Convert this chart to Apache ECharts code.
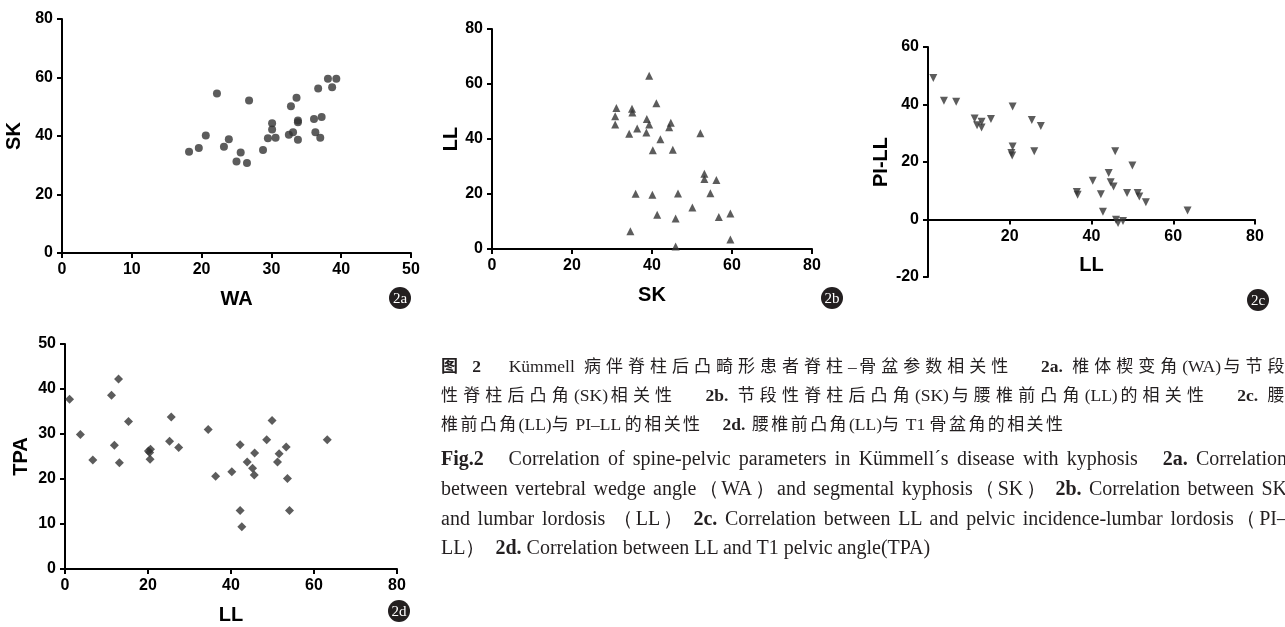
<!DOCTYPE html>
<html><head><meta charset="utf-8">
<script src="https://cdn.jsdelivr.net/npm/echarts@6/dist/echarts.min.js"></script>
<style>
html,body{margin:0;padding:0;background:#fff;overflow:hidden;}
#chart{position:absolute;left:0;top:0;width:1285px;height:627px;}
#cap{position:absolute;left:0;top:0;width:1285px;height:627px;pointer-events:none;color:#231f20;}
.ln{position:absolute;left:441px;width:846px;white-space:nowrap;text-align:justify;text-align-last:justify;height:24px;line-height:24px;}
.zh{font-family:"Liberation Serif","Noto Sans CJK SC";font-size:17px;letter-spacing:2.4px;}
.zh .l{letter-spacing:0;font-size:17.5px;}
.en{font-family:"Liberation Serif";font-size:20px;}
.left{text-align:left;text-align-last:left;}
b{font-weight:bold;}
</style>
</head><body>
<div id="chart"></div>
<div id="cap">
<div class="ln zh" style="top:354px"><b>图 <span class="l">2</span></b>&nbsp;&nbsp; <span class="l">Kümmell</span> 病伴脊柱后凸畸形患者脊柱<span class="l">–</span>骨盆参数相关性&nbsp;&nbsp; <b class="l">2a.</b> 椎体楔变角<span class="l">(WA)</span>与节段</div>
<div class="ln zh" style="top:383px">性脊柱后凸角<span class="l">(SK)</span>相关性&nbsp;&nbsp; <b class="l">2b.</b> 节段性脊柱后凸角<span class="l">(SK)</span>与腰椎前凸角<span class="l">(LL)</span>的相关性&nbsp;&nbsp; <b class="l">2c.</b> 腰</div>
<div class="ln zh left" style="top:412px">椎前凸角<span class="l">(LL)</span>与<span class="l"> PI–LL </span>的相关性&nbsp;&nbsp;&nbsp;<b class="l">2d.</b> 腰椎前凸角<span class="l">(LL)</span>与<span class="l"> T1 </span>骨盆角的相关性</div>
<div class="ln en" style="top:446px"><b>Fig.2</b>&nbsp;&nbsp; Correlation of spine-pelvic parameters in Kümmell´s disease with kyphosis&nbsp;&nbsp; <b>2a.</b> Correlation</div>
<div class="ln en" style="top:476px">between vertebral wedge angle（WA）and segmental kyphosis（SK）&nbsp;<b>2b.</b> Correlation between SK</div>
<div class="ln en" style="top:506px">and lumbar lordosis （LL）&nbsp;<b>2c.</b> Correlation between LL and pelvic incidence-lumbar lordosis（PI–</div>
<div class="ln en left" style="top:535px">LL）&nbsp; <b>2d.</b> Correlation between LL and T1 pelvic angle(TPA)</div>
</div>
<script>
// ---- data ----
const WA_a = [18.2,19.6,20.6,22.2,23.2,23.9,25.0,25.6,26.5,26.8,28.8,29.5,30.1,30.1,30.6,32.5,32.8,33.1,33.6,33.8,33.8,33.8,36.1,36.3,36.7,37.0,37.2,38.1,38.7,39.3];
const SK_a = [34.6,35.9,40.2,54.5,36.3,38.9,31.3,34.4,30.8,52.1,35.2,39.2,44.4,42.2,39.4,40.4,50.2,41.3,53.1,45.3,44.7,38.7,45.8,41.3,56.2,39.4,46.5,59.6,56.7,59.6];

const SK_b = [31.1,30.8,30.8,35.0,35.1,34.3,36.3,35.9,34.6,38.6,38.7,39.3,39.3,40.1,40.2,41.1,41.3,42.1,44.3,44.7,45.2,45.9,45.9,46.5,50.1,52.1,53.1,53.1,54.6,56.1,56.7,59.6,59.6];
const LL_b = [51.3,48.3,45.3,51.0,49.6,41.9,43.8,20.1,6.5,42.4,47.3,63.0,45.3,19.7,35.9,53.0,12.5,39.9,44.3,45.9,36.1,11.1,0.9,20.2,15.1,42.1,27.4,25.5,20.3,25.1,11.6,12.9,3.5];

const LL_c = [1.3,3.9,6.9,11.4,12.0,13.1,13.1,15.4,20.7,20.7,20.4,20.6,25.4,26.0,27.6,36.4,36.6,40.3,42.3,42.8,44.2,44.7,45.4,45.8,46.0,46.5,47.7,48.7,50.0,51.3,51.7,53.3,63.5];
const PILL_c = [49.2,41.3,41.0,35.1,32.8,34.0,32.0,35.0,39.3,25.4,23.1,22.3,34.6,23.7,32.5,9.6,8.6,13.5,8.8,2.7,16.2,13.0,11.5,23.7,-0.1,-1.2,-0.5,9.2,18.8,9.2,8.0,6.0,3.1];

const LL_d = [1.1,3.7,6.7,11.2,11.9,12.9,13.1,15.3,20.1,20.6,20.5,20.4,25.2,25.6,27.4,34.5,36.3,40.2,42.2,42.2,42.6,43.9,45.2,45.6,45.7,48.6,49.9,51.2,51.6,53.3,53.6,54.1,63.2];
const TPA_d = [37.7,29.9,24.2,38.6,27.5,42.2,23.6,32.8,26.2,26.6,24.4,25.9,28.4,33.8,27.0,31.0,20.6,21.6,27.6,13.0,9.4,23.8,22.4,20.9,25.8,28.7,33.0,23.8,25.6,27.1,20.1,13.0,28.7];

// tick labels
const ticksAx = [0,10,20,30,40,50], ticksAy = [0,20,40,60,80];
const ticksBx = [0,20,40,60,80], ticksBy = [0,20,40,60,80];
const ticksCx = [0,20,40,60,80], ticksCy = [-20,0,20,40,60];
const ticksDx = [0,20,40,60,80], ticksDy = [0,10,20,30,40,50];
const names = {a:['WA','SK'], b:['SK','LL'], c:['LL','PI-LL'], d:['LL','TPA']};
const badges = ['2a','2b','2c','2d'];

// ---- chart ----
const chart = echarts.init(document.getElementById('chart'), null, {renderer:'canvas'});
const INK = '#000';
const MARK = '#333';
const FONT = '"Liberation Sans", Arial, sans-serif';
const grids = [
  {left:62, top:19, width:349, height:234},
  {left:492, top:29, width:320, height:220},
  {left:928, top:47, width:327, height:230},
  {left:65, top:344, width:332, height:225}
];
function axis(kind, gi, ticks, name, gap, hideZero, offset){
  return {
    type:'value', gridIndex:gi, min:ticks[0], max:ticks[ticks.length-1], interval:ticks[1]-ticks[0],
    name:name, nameLocation:'middle', nameGap:gap, offset: offset||0,
    nameTextStyle:{fontFamily:FONT, fontWeight:'bold', fontSize:20, color:INK},
    axisLine:{show:true, onZero:false, lineStyle:{color:INK, width:2}},
    axisTick:{show:true, inside:false, length:5, lineStyle:{color:INK, width:2}},
    axisLabel:{show:true, margin:9, fontFamily:FONT, fontWeight:'bold', fontSize:16, color:INK,
      formatter: v => (hideZero && v===0) ? '' : String(v)},
    splitLine:{show:false}
  };
}
// x-axis of panel c sits on the y=0 line
const cZeroOffset = -grids[2].height * (0 - ticksCy[0]) / (ticksCy[ticksCy.length-1] - ticksCy[0]);
function pts(xs, ys){ return xs.map((x,i)=>[x, ys[i]]); }
const badgePos = [[400,298],[832,298],[1258,300],[399,611]];
const option = {
  animation:false,
  backgroundColor:'#fff',
  grid: grids,
  xAxis:[
    axis('x',0,ticksAx,names.a[0],36,false),
    axis('x',1,ticksBx,names.b[0],36,false),
    axis('x',2,ticksCx,names.c[0],36,true,cZeroOffset),
    axis('x',3,ticksDx,names.d[0],36,false)
  ],
  yAxis:[
    axis('y',0,ticksAy,names.a[1],38,false),
    axis('y',1,ticksBy,names.b[1],31,false),
    axis('y',2,ticksCy,names.c[1],35,false),
    axis('y',3,ticksDy,names.d[1],34,false)
  ],
  series:[
    {type:'scatter', xAxisIndex:0, yAxisIndex:0, data:pts(WA_a,SK_a), symbol:'circle', symbolSize:8, itemStyle:{color:MARK}},
    {type:'scatter', xAxisIndex:1, yAxisIndex:1, data:pts(SK_b,LL_b), symbol:'triangle', symbolSize:8, itemStyle:{color:MARK}},
    {type:'scatter', xAxisIndex:2, yAxisIndex:2, data:pts(LL_c,PILL_c), symbol:'triangle', symbolRotate:180, symbolSize:8, itemStyle:{color:MARK}},
    {type:'scatter', xAxisIndex:3, yAxisIndex:3, data:pts(LL_d,TPA_d), symbol:'diamond', symbolSize:9, itemStyle:{color:MARK}}
  ],
  graphic: badges.map((t,i)=>({
    type:'group', x:badgePos[i][0], y:badgePos[i][1],
    children:[
      {type:'circle', shape:{cx:0, cy:0, r:11}, style:{fill:'#231f20'}},
      {type:'text', x:0, y:1, style:{text:t, fill:'#fff', font:'15px "Liberation Serif", serif', align:'center', verticalAlign:'middle'}}
    ]
  }))
};
chart.setOption(option);
</script>
</body></html>
